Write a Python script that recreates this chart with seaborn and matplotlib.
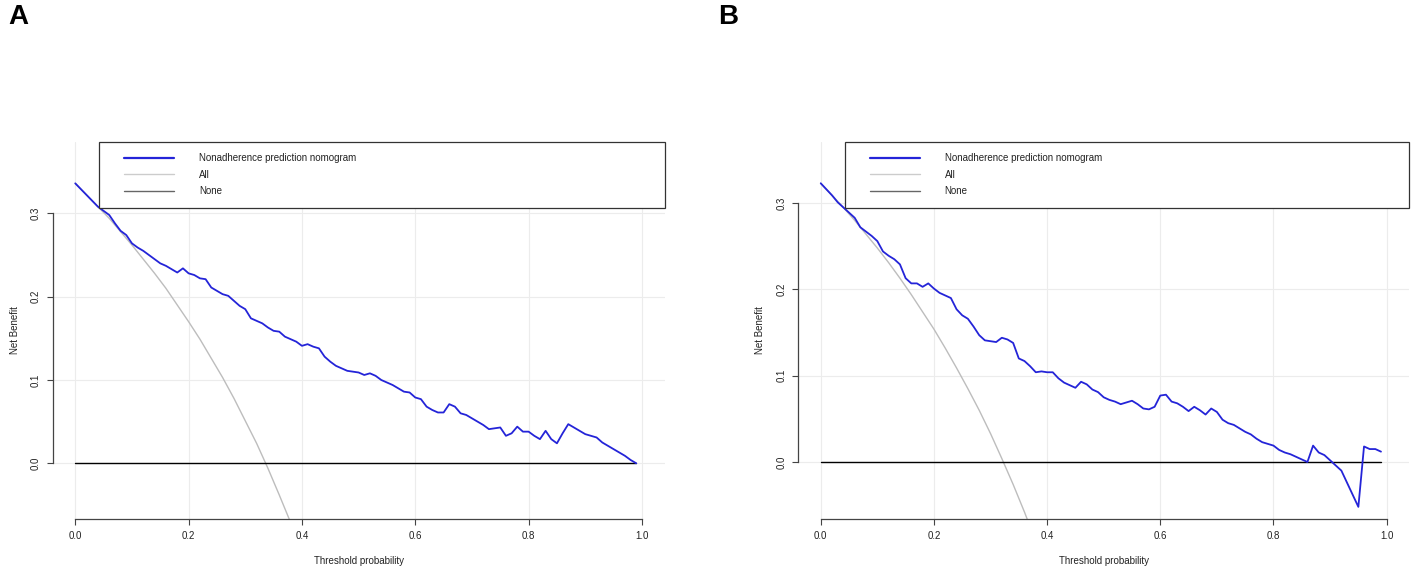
import numpy as np
import pandas as pd
import matplotlib
matplotlib.use("Agg")
import matplotlib.pyplot as plt
import seaborn as sns
from matplotlib.lines import Line2D
from matplotlib.legend_handler import HandlerLine2D

# decision curve data
thresholds = np.round(np.arange(0, 1.0, 0.01), 2)

nomogram_a = [0.336, 0.329, 0.322, 0.315, 0.308, 0.303, 0.298, 0.288, 0.279, 0.274,
              0.264, 0.259, 0.255, 0.250, 0.245, 0.240, 0.237, 0.233, 0.229, 0.234,
              0.228, 0.226, 0.222, 0.221, 0.211, 0.207, 0.203, 0.201, 0.195, 0.189,
              0.185, 0.174, 0.171, 0.168, 0.163, 0.159, 0.158, 0.152, 0.149, 0.146,
              0.141, 0.143, 0.140, 0.138, 0.128, 0.122, 0.117, 0.114, 0.111, 0.110,
              0.109, 0.106, 0.108, 0.105, 0.100, 0.097, 0.094, 0.090, 0.086, 0.085,
              0.079, 0.077, 0.068, 0.064, 0.061, 0.061, 0.071, 0.068, 0.060, 0.058,
              0.054, 0.050, 0.046, 0.041, 0.042, 0.043, 0.033, 0.036, 0.044, 0.038,
              0.038, 0.033, 0.029, 0.039, 0.029, 0.024, 0.036, 0.047, 0.043, 0.039,
              0.035, 0.033, 0.031, 0.025, 0.021, 0.017, 0.013, 0.009, 0.004, 0.000]

nomogram_b = [0.323, 0.316, 0.309, 0.301, 0.295, 0.289, 0.283, 0.272, 0.267, 0.262,
              0.256, 0.244, 0.239, 0.235, 0.229, 0.213, 0.207, 0.207, 0.203, 0.207,
              0.201, 0.196, 0.193, 0.190, 0.177, 0.170, 0.166, 0.157, 0.147, 0.141,
              0.140, 0.139, 0.144, 0.142, 0.138, 0.120, 0.117, 0.111, 0.104, 0.105,
              0.104, 0.104, 0.097, 0.092, 0.089, 0.086, 0.093, 0.090, 0.084, 0.081,
              0.075, 0.072, 0.070, 0.067, 0.069, 0.071, 0.067, 0.062, 0.061, 0.064,
              0.077, 0.078, 0.070, 0.068, 0.064, 0.059, 0.064, 0.060, 0.055, 0.062,
              0.058, 0.049, 0.045, 0.043, 0.039, 0.035, 0.032, 0.027, 0.023, 0.021,
              0.019, 0.014, 0.011, 0.009, 0.006, 0.003, 0.000, 0.019, 0.011, 0.008,
              0.002, -0.004, -0.010, -0.024, -0.038, -0.052, 0.018, 0.015, 0.015, 0.012]

none_nb = [0.0] * len(thresholds)

all_thresholds = [0.00, 0.02, 0.04, 0.06, 0.08, 0.10, 0.12, 0.14, 0.16, 0.18,
                  0.20, 0.22, 0.24, 0.26, 0.28, 0.30, 0.32, 0.34, 0.36, 0.38]
all_a = [0.336, 0.322, 0.308, 0.294, 0.278, 0.262, 0.245, 0.228, 0.210, 0.190,
         0.170, 0.149, 0.126, 0.103, 0.078, 0.051, 0.024, -0.006, -0.038, -0.071]
all_b = [0.323, 0.309, 0.295, 0.280, 0.264, 0.248, 0.231, 0.213, 0.194, 0.174,
         0.154, 0.132, 0.109, 0.085, 0.060, 0.033, 0.004, -0.026, -0.058, -0.092]

x_ticks = [0.0, 0.2, 0.4, 0.6, 0.8, 1.0]
y_ticks = [0.0, 0.1, 0.2, 0.3]
legend_labels = ["Nonadherence prediction nomogram", "All", "None"]
panel_labels = ["A", "B"]

blue = "#2424d8"
light = "#bdbdbd"
ink = "#222222"

sns.set_style("white")
plt.rcParams["font.family"] = ["Liberation Sans", "DejaVu Sans"]

fig = plt.figure(figsize=(14.17, 5.73), dpi=100)
ax_a = fig.add_axes([0.03712, 0.09372, 0.43190, 0.65899])
ax_b = fig.add_axes([0.56323, 0.09372, 0.43133, 0.65899])


def draw_panel(ax, nb, all_nb, ylim):
    sns.lineplot(x=all_thresholds, y=all_nb, ax=ax, color=light, linewidth=1.0)
    sns.lineplot(x=thresholds, y=none_nb, ax=ax, color="black", linewidth=1.0)
    sns.lineplot(x=thresholds, y=nb, ax=ax, color=blue, linewidth=1.3)

    ax.set_xlim(-0.04, 1.04)
    ax.set_ylim(*ylim)
    ax.set_xticks(x_ticks)
    ax.set_yticks(y_ticks)
    ax.set_xticklabels([f"{t:.1f}" for t in x_ticks])
    ax.set_yticklabels([f"{t:.1f}" for t in y_ticks])
    ax.grid(True, color="#ececec", linewidth=0.8)
    ax.set_axisbelow(True)

    for side in ["top", "right"]:
        ax.spines[side].set_visible(False)
    ax.spines["left"].set_bounds(0.0, 0.3)
    ax.spines["bottom"].set_bounds(0.0, 1.0)
    for side in ["left", "bottom"]:
        ax.spines[side].set_color("#444444")
        ax.spines[side].set_linewidth(0.9)

    ax.tick_params(direction="out", length=4, width=0.8, color="#444444",
                   labelsize=7, labelcolor=ink, pad=4.5, left=True, bottom=True)
    ax.tick_params(axis="y", labelrotation=90)
    for lab in ax.get_yticklabels():
        lab.set_va("center")

    ax.set_xlabel("Threshold probability", fontsize=7, color=ink, labelpad=11)
    ax.set_ylabel("Net Benefit", fontsize=7, color=ink, labelpad=8)

    handles = [Line2D([], [], color=blue, linewidth=1.6),
               Line2D([], [], color="#cccccc", linewidth=1.0),
               Line2D([], [], color="#666666", linewidth=1.0)]
    leg = ax.legend(handles, legend_labels, loc="upper left",
                    bbox_to_anchor=(0.0765, 0.0, 0.9235, 1.0), mode="expand",
                    borderaxespad=0, borderpad=1.2, labelspacing=0.65,
                    handlelength=6.48, handletextpad=2.57, fontsize=7,
                    fancybox=False, framealpha=1, edgecolor="#333333",
                    handler_map={Line2D: HandlerLine2D(xpad=1.34)})
    leg.get_frame().set_linewidth(0.9)
    for txt in leg.get_texts():
        txt.set_color(ink)


draw_panel(ax_a, nomogram_a, all_a, (-0.0672, 0.386))
draw_panel(ax_b, nomogram_b, all_b, (-0.0664, 0.3712))

fig.text(8 / 1417, 1 - 24 / 573, panel_labels[0], fontsize=20,
         fontweight="bold", color="black")
fig.text(718 / 1417, 1 - 24 / 573, panel_labels[1], fontsize=20,
         fontweight="bold", color="black")

fig.savefig("out.png", dpi=100)
